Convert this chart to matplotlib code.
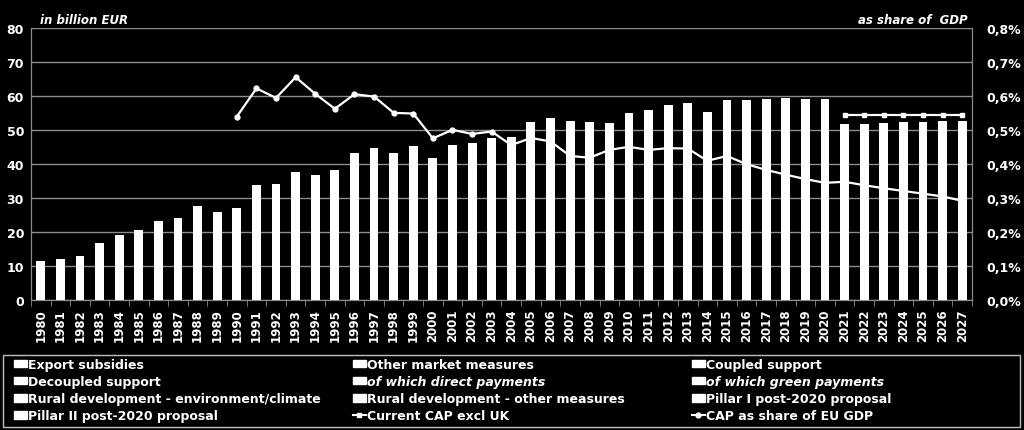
import matplotlib.pyplot as plt
import matplotlib.patches as mpatches
from matplotlib.lines import Line2D
import numpy as np

years = [str(y) for y in range(1980, 2028)]

# total CAP expenditure, billion EUR
cap_total = [11.5, 12.0, 13.0, 16.8, 19.0, 20.7, 23.2, 24.0, 27.6, 26.0,
             27.2, 34.0, 34.3, 37.8, 36.8, 38.2, 43.2, 44.8, 43.2, 45.3,
             41.9, 45.7, 46.3, 47.6, 48.0, 52.3, 53.5, 52.8, 52.3, 52.0,
             55.2, 55.9, 57.5, 58.1, 55.3, 58.9, 59.0, 59.3, 59.4, 59.3,
             59.3, 51.7, 51.9, 52.1, 52.3, 52.4, 52.6, 52.7]

# CAP as share of EU GDP (%), 1990-2027
gdp_years = [str(y) for y in range(1990, 2028)]
gdp_share = [0.540, 0.623, 0.595, 0.656, 0.607, 0.563, 0.606, 0.599, 0.551, 0.549,
             0.476, 0.501, 0.489, 0.496, 0.456, 0.477, 0.467, 0.424, 0.419, 0.442,
             0.451, 0.442, 0.447, 0.446, 0.410, 0.424, 0.400, 0.383, 0.369, 0.356,
             0.345, 0.348, 0.338, 0.329, 0.321, 0.313, 0.305, 0.292]

# current CAP excl UK (% of GDP), 2021-2027
excl_years = [str(y) for y in range(2021, 2028)]
excl_uk = [0.545, 0.545, 0.545, 0.545, 0.545, 0.545, 0.545]

legend_cols = [
    ['Export subsidies', 'Decoupled support',
     'Rural development - environment/climate', 'Pillar II post-2020 proposal'],
    ['Other market measures', 'of which direct payments',
     'Rural development - other measures', 'Current CAP excl UK'],
    ['Coupled support', 'of which green payments',
     'Pillar I post-2020 proposal', 'CAP as share of EU GDP'],
]

grid_col = '#8c8c8c'

fig = plt.figure(figsize=(10.24, 4.31), dpi=100, facecolor='black')
ax = fig.add_axes([31 / 1024, 1 - 301 / 431, 941 / 1024, 271.7 / 431])
ax.set_facecolor('black')
ax2 = ax.twinx()

x = np.arange(len(years))
ax.bar(x, cap_total, width=0.45, color='white', zorder=3)

ax.set_ylim(0, 80)
ax.set_yticks(range(0, 81, 10))
ax.set_xlim(-0.5, len(years) - 0.5)
ax.set_xticks(x)
ax.set_xticklabels(years, rotation=90)
ax.set_xticks(np.arange(-0.5, len(years), 1), minor=True)
ax.tick_params(axis='x', which='major', length=0, pad=6, colors='white', labelsize=8.5)
ax.tick_params(axis='x', which='minor', length=4, color=grid_col)
ax.tick_params(axis='y', length=0, pad=5, colors='white', labelsize=9)
ax.grid(axis='y', color=grid_col, linewidth=1, zorder=0)
for lab in ax.get_xticklabels() + ax.get_yticklabels():
    lab.set_fontweight('bold')

xg = [years.index(y) for y in gdp_years]
xe = [years.index(y) for y in excl_years]
ax2.plot(xg, gdp_share, color='white', linewidth=1.6, marker='o', markersize=3.5, zorder=4)
ax2.plot(xe, excl_uk, color='white', linewidth=1.6, marker='s', markersize=3, zorder=4)
ax2.set_ylim(0, 0.8)
ax2.set_yticks(np.arange(0, 0.81, 0.1))
ax2.set_yticklabels([f'{v:.1f}%'.replace('.', ',') for v in np.arange(0, 0.81, 0.1)])
ax2.tick_params(axis='y', length=0, pad=10, colors='white', labelsize=9)
for lab in ax2.get_yticklabels():
    lab.set_fontweight('bold')

for a in (ax, ax2):
    for s in a.spines.values():
        s.set_color(grid_col)
    a.spines['top'].set_visible(False)

fig.text(40 / 1024, 1 - 20 / 431, 'in billion EUR', color='white', fontsize=8.5,
         fontweight='bold', fontstyle='italic', va='center')
fig.text(968 / 1024, 1 - 20 / 431, 'as share of  GDP', color='white', fontsize=8.5,
         fontweight='bold', fontstyle='italic', va='center', ha='right')

# legend frame
fig.patches.append(mpatches.Rectangle((3 / 1024, 3 / 431), 1017 / 1024, 72 / 431,
                                      transform=fig.transFigure, facecolor='none',
                                      edgecolor='#bfbfbf', linewidth=1))

col_x = [14, 353, 692]
for cx, labels in zip(col_x, legend_cols):
    handles = []
    for lab in labels:
        if lab == 'Current CAP excl UK':
            handles.append(Line2D([], [], color='white', marker='s', markersize=3, linewidth=1.5))
        elif lab == 'CAP as share of EU GDP':
            handles.append(Line2D([], [], color='white', marker='o', markersize=3.5, linewidth=1.5))
        else:
            handles.append(mpatches.Patch(facecolor='white', edgecolor='white'))
    leg = fig.legend(handles, labels, loc='upper left',
                     bbox_to_anchor=(cx / 1024, 1 - 359 / 431),
                     frameon=False, fontsize=9, labelcolor='white',
                     handlelength=1.0, handleheight=0.55, handletextpad=0.15,
                     labelspacing=0.33, borderpad=0, borderaxespad=0)
    for t in leg.get_texts():
        t.set_fontweight('bold')
        if t.get_text().startswith('of which'):
            t.set_fontstyle('italic')

fig.savefig('out.png', dpi=100, facecolor='black')
